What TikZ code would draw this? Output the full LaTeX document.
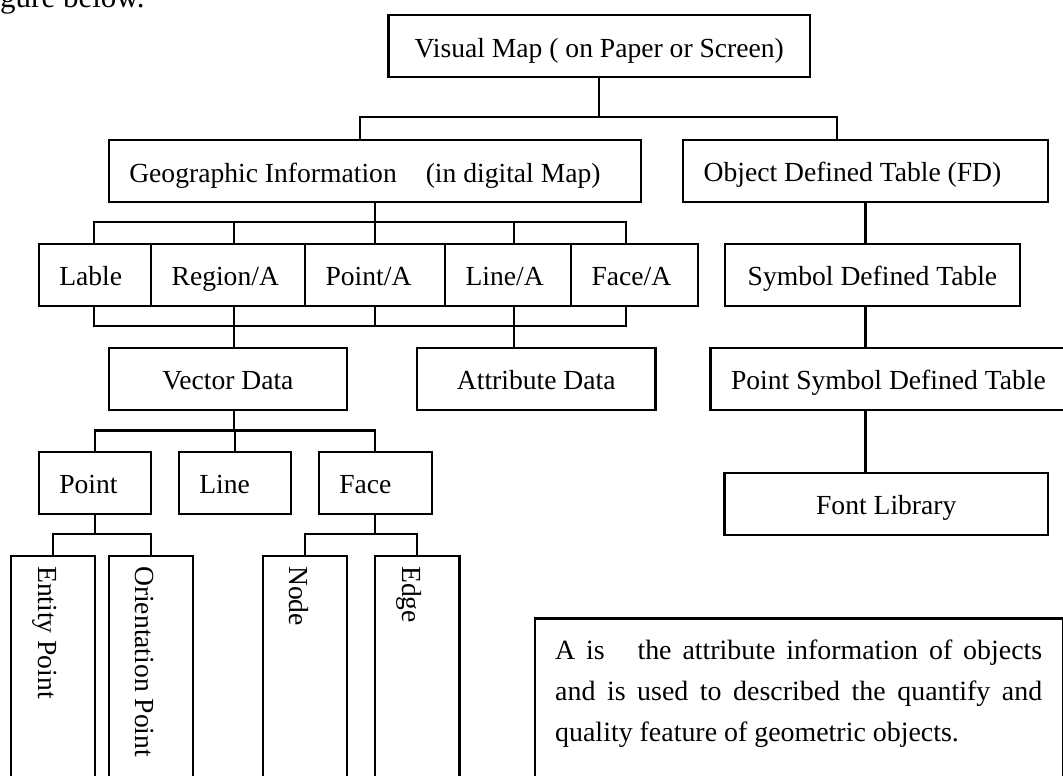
\documentclass[tikz,border=0pt]{standalone}
\usepackage{fontspec}
\setmainfont{Liberation Serif}
\newcommand{\fs}{\fontsize{27.6}{32}\selectfont}
\newcommand{\lbx}[2]{\makebox[\dimexpr#1pt-41pt\relax][l]{#2}}
\begin{document}
\begin{tikzpicture}[x=1pt,y=-1pt,
  bx/.style={draw, line width=2.2pt, minimum height=62pt, inner sep=0pt, font=\fs, text height=22pt, text depth=0pt, anchor=north west},
  lb/.style={bx, inner xsep=20.5pt},
  cb/.style={bx, minimum width=#1},
  tall/.style={draw, line width=2.2pt, minimum width=#1, minimum height=250pt, inner sep=0pt, anchor=north west},
  vt/.style={rotate=-90, anchor=base west, inner sep=0pt, font=\fs},
  conn/.style={line width=2.2pt}]
\useasboundingbox (0,0) rectangle (1063,776);

% running text of the page
\node[anchor=base west, inner sep=0pt, font=\fontsize{31}{36}\selectfont] (body) at (0,7.5) {gure below.};

% boxes
\node[cb=421.7pt] (vm) at (387.3,14) {Visual Map ( on Paper or Screen)};
\node[lb] (geo) at (107.7,139) {\lbx{532.3}{Geographic Information\hspace{29pt}(in digital Map)}};
\node[lb] (obj) at (682,138.7) {\lbx{364.7}{Object Defined Table (FD)}};

\node[lb] (lab) at (37.7,242.7) {\lbx{112.3}{Lable}};
\node[lb] (reg) at (150,242.7) {\lbx{154}{Region/A}};
\node[lb] (pa) at (304,242.7) {\lbx{140}{Point/A}};
\node[lb] (la) at (444,242.7) {\lbx{126}{Line/A}};
\node[lb] (fa) at (570,242.7) {\lbx{126.7}{Face/A}};
\node[cb=295.3pt] (sym) at (723.7,242.7) {Symbol Defined Table};

\node[cb=238.3pt] (vec) at (107.7,346.7) {Vector Data};
\node[cb=238.3pt] (att) at (416,346.7) {Attribute Data};
\node[cb=356pt] (psym) at (709.3,346.7) {Point Symbol Defined Table};

\node[lb] (pt) at (37.7,450.7) {\lbx{112.3}{Point}};
\node[lb] (ln) at (177.7,450.7) {\lbx{112.3}{Line}};
\node[lb] (fc) at (317.7,450.7) {\lbx{113}{Face}};
\node[cb=323.7pt] (font) at (723.3,471.7) {Font Library};

\node[tall=84pt] (ent) at (10,555) {};
\node[tall=84pt] (ori) at (107.7,555) {};
\node[tall=84pt] (nd) at (261.7,555) {};
\node[tall=84.3pt] (ed) at (374,555) {};
\node[vt] (entT) at (38,566) {Entity Point};
\node[vt] (oriT) at (135.7,566) {Orientation Point};
\node[vt] (ndT) at (289.7,566) {Node};
\node[vt] (edT) at (402.2,566) {Edge};

\node[draw, line width=2.2pt, anchor=north west, minimum width=527.7pt, minimum height=220pt, inner sep=0pt] (note) at (534,617.3) {};
\node[anchor=base west, inner sep=0pt] (noteT) at (555,659.3) {\parbox[t]{487pt}{\fontsize{27.9}{41.3}\selectfont\tolerance=10000\hbadness=10000
A is\ \ \ the attribute information of objects\linebreak
and is used to described the quantify and\linebreak
quality feature of geometric objects.}};

% junction coordinates
\coordinate (t1) at (360,117.3);
\coordinate (t2) at (836.7,117.3);
\coordinate (u1) at (94,222.3);
\coordinate (u2) at (626,222.3);
\coordinate (v1) at (94,325.7);
\coordinate (v2) at (626,325.7);
\coordinate (xa) at (234,0);
\coordinate (xb) at (514,0);
\coordinate (w1) at (94,430.5);
\coordinate (p1) at (0,534);

% connectors
\draw[conn] (vm.south) -- (vm.south |- t1);
\draw[conn] (geo.north -| t1) -- (t1) -- (t2) -- (obj.north -| t2);

\draw[conn] (geo.south) -- (pa.north -| geo.south);
\draw[conn] (lab.north -| u1) -- (u1) -- (u2) -- (fa.north -| u2);
\draw[conn] (xa |- u1) -- (reg.north -| xa);
\draw[conn] (xb |- u1) -- (la.north -| xb);

\draw[conn] (lab.south -| v1) -- (v1) -- (v2) -- (fa.south -| v2);
\draw[conn] (reg.south -| xa) -- (vec.north -| xa);
\draw[conn] (pa.south) -- (pa.south |- v1);
\draw[conn] (la.south -| xb) -- (att.north -| xb);

\draw[conn] (vec.south -| xa) -- (xa |- w1);
\draw[conn] (pt.north) |- (fc.north |- w1) -- (fc.north);
\draw[conn] (ln.north) -- (ln.north |- w1);

\draw[conn] (pt.south) -- (pt.south |- p1);
\draw[conn] (ent.north) |- (ori.north |- p1) -- (ori.north);
\draw[conn] (fc.south) -- (fc.south |- p1);
\draw[conn] (nd.north) |- (ed.north |- p1) -- (ed.north);

\draw[conn] (obj.south) -- (obj.south |- sym.north);
\draw[conn] (obj.south |- sym.south) -- (obj.south |- psym.north);
\draw[conn] (obj.south |- psym.south) -- (obj.south |- font.north);
\end{tikzpicture}
\end{document}
